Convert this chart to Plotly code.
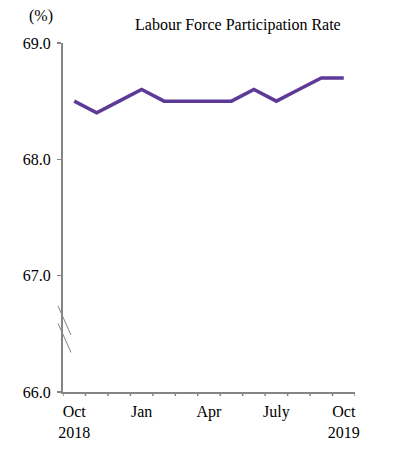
import plotly.graph_objects as go

months = ["Oct 2018", "Nov", "Dec", "Jan", "Feb", "Mar", "Apr", "May", "Jun", "July", "Aug", "Sep", "Oct 2019"]
rate = [68.5, 68.4, 68.5, 68.6, 68.5, 68.5, 68.5, 68.5, 68.6, 68.5, 68.6, 68.7, 68.7]
tick_vals = ["Oct 2018", "Jan", "Apr", "July", "Oct 2019"]
tick_text = ["Oct<br>2018", "Jan", "Apr", "July", "Oct<br>2019"]
y_ticks = [66.0, 67.0, 68.0, 69.0]

font = dict(family="Liberation Serif, Times New Roman, serif", size=16, color="black")
axis_col = "#858585"

fig = go.Figure()
fig.add_trace(go.Scatter(x=months, y=rate, mode="lines",
                         line=dict(color="#5E3A98", width=3.5), hoverinfo="skip"))

fig.update_layout(
    width=394, height=468,
    margin=dict(l=63, r=39, t=43, b=76, autoexpand=False),
    paper_bgcolor="white", plot_bgcolor="white",
    showlegend=False, font=font,
    xaxis=dict(type="category", categoryorder="array", categoryarray=months,
               range=[-0.5, 12.5], tickmode="array", tickvals=tick_vals, ticktext=tick_text,
               showgrid=False, zeroline=False, showline=True, linecolor=axis_col, linewidth=2,
               ticks="", tickfont=font, automargin=False, ticklabelstandoff=4),
    yaxis=dict(range=[66, 69], tickvals=y_ticks, ticktext=["66.0", "67.0", "68.0", "69.0"],
               showgrid=False, zeroline=False, showline=True, linecolor=axis_col, linewidth=2,
               ticks="outside", ticklen=4, tickcolor=axis_col, tickwidth=1.5, tickfont=font,
               ticklabelstandoff=3, automargin=False),
)

# tick marks at category boundaries on x axis
for i in range(14):
    fig.add_shape(type="line", xref="x", yref="paper", ysizemode="pixel", yanchor=0,
                  x0=i - 0.5, x1=i - 0.5, y0=0, y1=-4,
                  line=dict(color=axis_col, width=1.5))

# axis break marks
for ya, yb in [(66.74, 66.49), (66.59, 66.34)]:
    fig.add_shape(type="line", xref="paper", yref="y", xsizemode="pixel", xanchor=0,
                  x0=-5, x1=8, y0=ya, y1=yb, line=dict(color=axis_col, width=1))

fig.add_annotation(text="Labour Force Participation Rate", xref="paper", yref="paper",
                   x=(238 - 63) / 292, y=1 + (43 - 25) / 349, showarrow=False,
                   xanchor="center", yanchor="middle", font=font)
fig.add_annotation(text="(%)", xref="paper", yref="paper",
                   x=(41 - 63) / 292, y=1 + (43 - 16) / 349, showarrow=False,
                   xanchor="center", yanchor="middle", font=font)

fig.write_html("out.html", post_script="document.body.style.margin='0';",
               config={"displayModeBar": False, "staticPlot": True})
